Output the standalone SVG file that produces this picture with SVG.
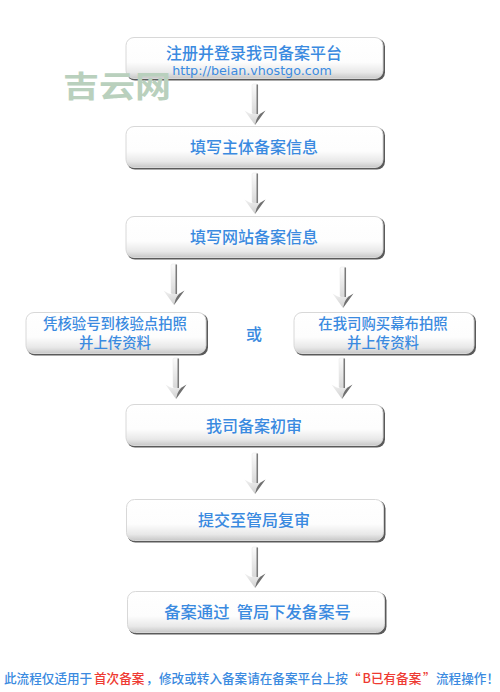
<svg xmlns="http://www.w3.org/2000/svg" width="500" height="692" viewBox="0 0 500 692">
<defs>
<linearGradient id="boxFill" x1="0" y1="0" x2="0" y2="1"><stop offset="0" stop-color="#ffffff"/><stop offset="0.6" stop-color="#fdfdfd"/><stop offset="0.85" stop-color="#e8e8e8"/><stop offset="1" stop-color="#c8c8c8"/></linearGradient>
<linearGradient id="arrowFill" x1="0" y1="0" x2="0" y2="1"><stop offset="0" stop-color="#fbfbfb"/><stop offset="1" stop-color="#d8d8d8"/></linearGradient>
<linearGradient id="headFill" x1="0" y1="0" x2="0" y2="1"><stop offset="0" stop-color="#f0f0f0"/><stop offset="1" stop-color="#d0d0d0"/></linearGradient>
<g id="arrow">
<rect x="-3" y="0" width="6" height="30" rx="1.500" fill="url(#arrowFill)" stroke="#e4e4e4" stroke-width="0.500"/>
<path d="M1.500 0.500H3V30H1.500Z" fill="#7a7a7a"/>
<path d="M-10.500 26.500Q-5 30 -3 30H3Q5 30 10.500 26.500L0 41Z" fill="url(#headFill)"/>
<path d="M10.500 26.500L0 41L1.500 35.500Q4 30 6.500 29Z" fill="#707070"/>
</g>
<g id="box"><rect x="1.500" y="1.500" width="258" height="42" rx="8" fill="#5a5a5a"/><rect x="0.500" y="0.500" width="257" height="41" rx="8" fill="url(#boxFill)" stroke="#d8d8d8"/></g>
<g id="sbox"><rect x="1.500" y="1.500" width="181" height="42" rx="8" fill="#5a5a5a"/><rect x="0.500" y="0.500" width="180" height="41" rx="8" fill="url(#boxFill)" stroke="#d8d8d8"/></g>
</defs>
<style>
text{font-family:"Noto Sans CJK SC","Noto Sans",sans-serif;text-anchor:middle;fill:#3a8ae0;font-weight:500}
.l{font-size:16px}
.s{font-size:14.400px}
.n{font-size:12.600px;text-anchor:start}
.r{fill:#ee3a32}
</style>
<rect width="500" height="692" fill="#fff"/>
<g id="connectors">
<use href="#arrow" x="255" y="84"/>
<use href="#arrow" x="255" y="173"/>
<use href="#arrow" x="174" y="264"/>
<use href="#arrow" x="343" y="267"/>
<use href="#arrow" x="176" y="358"/>
<use href="#arrow" x="342" y="358"/>
<use href="#arrow" x="255" y="453"/>
<use href="#arrow" x="255" y="547"/>
</g>
<g id="node-1"><use href="#box" x="125.500" y="37"/>
<text class="l" x="254" y="59">注册并登录我司备案平台</text>
<text x="252" y="74.500" style="font-family:'DejaVu Sans',sans-serif;font-size:12.700px">http://beian.vhostgo.com</text></g>
<g id="node-2"><use href="#box" x="125.500" y="126"/><text class="l" x="254" y="153">填写主体备案信息</text></g>
<g id="node-3"><use href="#box" x="125.500" y="216"/><text class="l" x="254" y="243">填写网站备案信息</text></g>
<g id="node-4"><use href="#sbox" x="25.500" y="312"/><text class="s" x="115" y="329">凭核验号到核验点拍照</text><text class="s" x="115" y="348">并上传资料</text></g>
<g id="node-5"><use href="#sbox" x="293.500" y="312"/><text class="s" x="383" y="329">在我司购买幕布拍照</text><text class="s" x="383" y="348">并上传资料</text></g>
<g id="or"><text class="l" x="254" y="340">或</text></g>
<g id="node-6"><use href="#box" x="125.500" y="404"/><text class="l" x="254" y="432">我司备案初审</text></g>
<g id="node-7"><use href="#box" x="126" y="499"/><text class="l" x="254" y="526">提交至管局复审</text></g>
<g id="node-8"><use href="#box" x="127" y="591"/><text class="l" x="257.500" y="618" xml:space="preserve" style="font-size:16.300px">备案通过  管局下发备案号</text></g>
<g id="watermark"><text transform="translate(117 97) scale(1.030 .86)" style="fill:#b9d0bd;font-size:35px;font-weight:700">吉云网</text></g>
<g id="note"><text class="n" y="683"><tspan x="4">此流程仅适用于</tspan><tspan class="r" x="94">首次备案</tspan><tspan x="146">，</tspan><tspan x="159">修改或转入备案请在备案平台上按</tspan><tspan class="r" x="348">“</tspan><tspan class="r" x="362.500">B已有备案</tspan><tspan class="r" x="423">”</tspan><tspan x="436">流程操作！</tspan></text></g>
</svg>
